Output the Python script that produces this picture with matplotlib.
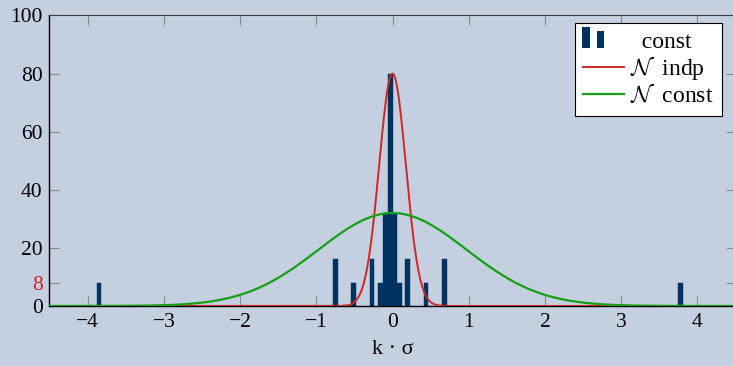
import matplotlib
matplotlib.use("Agg")
import matplotlib.pyplot as plt
import numpy as np
from matplotlib.legend_handler import HandlerBase
from matplotlib.patches import Rectangle

# ── Data ──────────────────────────────────────────────────────────────────
BAR_POS = [-3.85, -0.75, -0.51, -0.27, -0.156, -0.094, -0.031,
           0.031, 0.094, 0.20, 0.44, 0.68, 3.78]
BAR_HEIGHT = [8, 16, 8, 16, 8, 32, 80, 32, 8, 16, 8, 16, 8]
BAR_WIDTH = 0.0625

# fitted normal curves: peak height and spread
INDP_PEAK, INDP_SIGMA = 80, 0.175
CONST_PEAK, CONST_SIGMA = 32, 0.97

XTICKS = [-4, -3, -2, -1, 0, 1, 2, 3, 4]
YTICKS = [0, 8, 20, 40, 60, 80, 100]

BG = "#C4CFDF"
NAVY = "#003361"
RED = "#D02626"
GREEN = "#14A014"
TICK_GREY = "#8A8A8A"

plt.rcParams["font.family"] = ["Liberation Serif", "DejaVu Serif"]
plt.rcParams["mathtext.fontset"] = "cm"
plt.rcParams["axes.unicode_minus"] = True


class TwoBarHandler(HandlerBase):
    """pgfplots-style ybar legend glyph: two little bars."""

    def create_artists(self, legend, orig_handle, xdescent, ydescent,
                       width, height, fontsize, trans):
        w = width * 0.18
        a = Rectangle((-xdescent - width * 0.02, -ydescent - height * 0.05),
                      w, height * 1.3,
                      facecolor=NAVY, edgecolor="none", transform=trans)
        b = Rectangle((-xdescent + width * 0.34, -ydescent - height * 0.05),
                      w, height * 1.05,
                      facecolor=NAVY, edgecolor="none", transform=trans)
        return [a, b]


def gauss(x, peak, sigma):
    return peak * np.exp(-x ** 2 / (2 * sigma ** 2))


def main():
    fig = plt.figure(figsize=(7.33, 3.66), dpi=100, facecolor=BG)
    ax = fig.add_axes([0.0675, 0.164, 0.936, 0.7937])
    ax.set_facecolor(BG)

    bars = ax.bar(BAR_POS, BAR_HEIGHT, width=BAR_WIDTH, color=NAVY,
                  edgecolor=NAVY, linewidth=0.3, zorder=2)

    x = np.linspace(-4.5, 4.5, 1200)
    l_indp, = ax.plot(x, gauss(x, INDP_PEAK, INDP_SIGMA), color=RED,
                      lw=1.4, zorder=3)
    l_const, = ax.plot(x, gauss(x, CONST_PEAK, CONST_SIGMA), color=GREEN,
                       lw=1.6, zorder=3)

    ax.set_xlim(-4.5, 4.5)
    ax.set_ylim(0, 100)
    ax.set_xticks(XTICKS)
    ax.set_yticks(YTICKS)
    ax.set_yticklabels([str(v) for v in YTICKS])
    ax.get_yticklabels()[1].set_color(RED)

    ax.tick_params(direction="in", length=7, width=0.8, color=TICK_GREY,
                   labelsize=15.5, top=True, right=True, pad=5)
    for side in ("left", "bottom"):
        ax.spines[side].set_color("black")
        ax.spines[side].set_linewidth(1.0)
    ax.spines["top"].set_color("#3A3A3A")
    ax.spines["right"].set_color("#3A3A3A")

    ax.set_xlabel("k · σ", fontsize=16, labelpad=6)

    leg = ax.legend([bars, l_indp, l_const],
                    ["  const", r"$\mathcal{N}$  indp", r"$\mathcal{N}$  const"],
                    handler_map={type(bars): TwoBarHandler()},
                    loc="upper right", bbox_to_anchor=(0.980, 0.975),
                    fontsize=17, frameon=True, fancybox=False,
                    handlelength=1.75, handletextpad=0.25, labelspacing=0.06,
                    borderpad=0.35, borderaxespad=0.0)
    leg.get_frame().set_edgecolor("black")
    leg.get_frame().set_linewidth(0.8)
    leg.get_frame().set_facecolor("white")
    leg.get_frame().set_alpha(1.0)

    fig.savefig("out.png", dpi=100, facecolor=BG)


if __name__ == "__main__":
    main()
